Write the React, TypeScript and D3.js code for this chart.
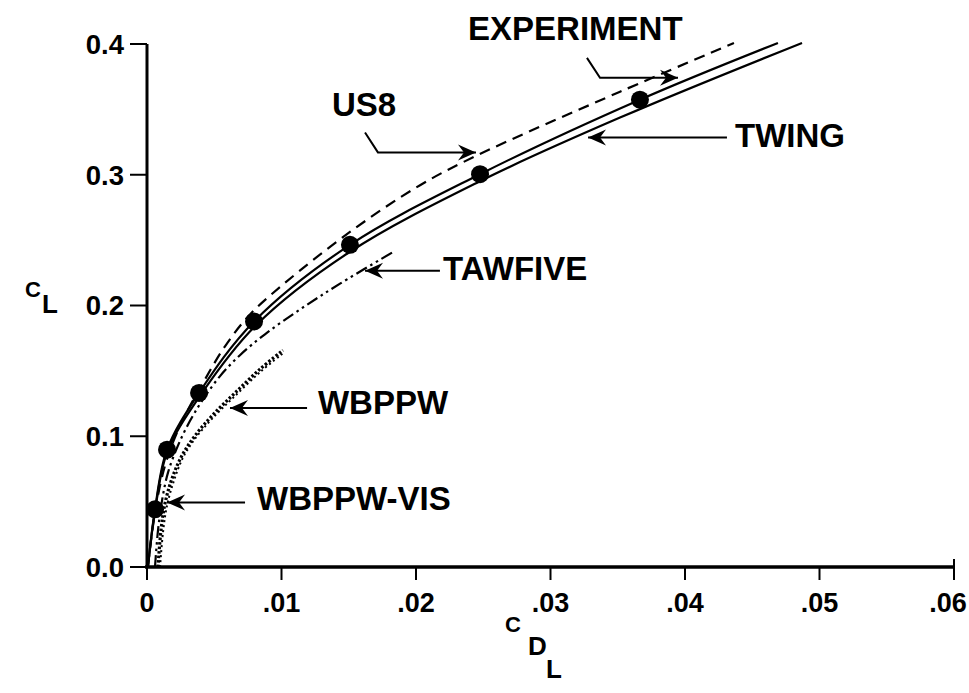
import React from 'react';
import * as d3 from 'd3';

// axis ticks
const xTicks = [0, 0.01, 0.02, 0.03, 0.04, 0.05, 0.06];
const xTickLabels = ['0', '.01', '.02', '.03', '.04', '.05', '.06'];
const yTicks = [0, 0.1, 0.2, 0.3, 0.4];
const yTickLabels = ['0.0', '0.1', '0.2', '0.3', '0.4'];

// experiment (solid line with filled circles)
const experimentCD = [0.00007, 0.000595, 0.00149, 0.00387, 0.00796, 0.01509, 0.02476, 0.03665, 0.04691];
const experimentCL = [0, 0.0441, 0.0897, 0.1331, 0.1878, 0.2464, 0.3004, 0.3574, 0.4008];
const dotsCD = [0.000595, 0.00149, 0.00387, 0.00796, 0.01509, 0.02476, 0.03665];
const dotsCL = [0.0441, 0.0897, 0.1331, 0.1878, 0.2464, 0.3004, 0.3574];

// TWING (solid)
const twingCD = [0.00007, 0.000595, 0.00149, 0.00394, 0.0081, 0.01509, 0.02476, 0.03517, 0.0487];
const twingCL = [0, 0.0426, 0.0875, 0.1308, 0.1848, 0.2411, 0.2951, 0.3437, 0.4008];

// US8 (dashed)
const us8CD = [0.00007, 0.000595, 0.00134, 0.00245, 0.00416, 0.0058, 0.00766, 0.01011, 0.01509, 0.0203, 0.02454, 0.03517, 0.04364];
const us8CL = [0.0008, 0.0418, 0.0776, 0.108, 0.1407, 0.1688, 0.1932, 0.216, 0.2563, 0.292, 0.3148, 0.3635, 0.4008];

// TAWFIVE (dash-dot-dot)
const tawfiveCD = [0.000595, 0.000818, 0.00112, 0.00156, 0.0023, 0.0032, 0.00409, 0.00543, 0.00691, 0.00877, 0.01138, 0.01435, 0.01844];
const tawfiveCL = [0, 0.0281, 0.051, 0.0722, 0.0928, 0.1118, 0.127, 0.146, 0.162, 0.178, 0.197, 0.2167, 0.2418];

// WBPPW (heavy dotted)
const wbppwCD = [0.000818, 0.00104, 0.00134, 0.00186, 0.0026, 0.00357, 0.00483, 0.00654, 0.0084, 0.01011];
const wbppwCL = [0, 0.0281, 0.0487, 0.0677, 0.0852, 0.1004, 0.1156, 0.1331, 0.1513, 0.1658];

// WBPPW-VIS (fine dotted)
const wbppwVisCD = [0.00097, 0.00119, 0.00149, 0.00201, 0.00268, 0.00357, 0.00483, 0.00654, 0.0084, 0.01011];
const wbppwVisCL = [0, 0.0266, 0.0471, 0.0662, 0.0837, 0.0981, 0.1133, 0.1308, 0.149, 0.1635];

// annotation labels, anchored at left/baseline in data units
const noteText = ['EXPERIMENT', 'US8', 'TWING', 'TAWFIVE', 'WBPPW', 'WBPPW-VIS'];
const noteCD = [0.02387, 0.01375, 0.04372, 0.02201, 0.01271, 0.00818];
const noteCL = [0.403, 0.3452, 0.3209, 0.2198, 0.1171, 0.0433];

// leader lines, last point is the arrow tip
const leaders = [
  [[0.03271, 0.3894], [0.03368, 0.3741], [0.03948, 0.3741]],
  [[0.01621, 0.3323], [0.01717, 0.3171], [0.02446, 0.3171]],
  [[0.04312, 0.3285], [0.03279, 0.3285]],
  [[0.02178, 0.2266], [0.01621, 0.2266]],
  [[0.0119, 0.1217], [0.00617, 0.1217]],
  [[0.00729, 0.0494], [0.00149, 0.0494]],
];

const W = 969;
const H = 693;
const font = '"Liberation Sans", Arial, Helvetica, sans-serif';

export default function App() {
  const x = d3.scaleLinear().domain([0, 0.06]).range([147, 954]);
  const y = d3.scaleLinear().domain([0, 0.4]).range([567, 44]);

  const line = d3.line<[number, number]>()
    .x(d => x(d[0]))
    .y(d => y(d[1]))
    .curve(d3.curveCatmullRom.alpha(0.5));

  const pts = (cd: number[], cl: number[]) => cd.map((v, i) => [v, cl[i]] as [number, number]);

  const series = [
    { d: pts(experimentCD, experimentCL), dash: null, w: 2.2 },
    { d: pts(twingCD, twingCL), dash: null, w: 2.2 },
    { d: pts(us8CD, us8CL), dash: '11 7', w: 2.2 },
    { d: pts(tawfiveCD, tawfiveCL), dash: '12 4 2.5 4 2.5 4', w: 2.2 },
    { d: pts(wbppwCD, wbppwCL), dash: '2.5 2', w: 3.2 },
    { d: pts(wbppwVisCD, wbppwVisCL), dash: '2 3', w: 2 },
  ];

  const arrowHead = (p: number[][]) => {
    const a = p[p.length - 2];
    const b = p[p.length - 1];
    const x1 = x(a[0]), y1 = y(a[1]), x2 = x(b[0]), y2 = y(b[1]);
    const ang = Math.atan2(y2 - y1, x2 - x1);
    const len = 18, half = 8, notch = 12;
    const c = Math.cos(ang), s = Math.sin(ang);
    const bx = x2 - len * c, by = y2 - len * s;
    const nx = x2 - notch * c, ny = y2 - notch * s;
    return `M${x2},${y2}L${bx - half * s},${by + half * c}L${nx},${ny}L${bx + half * s},${by - half * c}Z`;
  };

  return (
    <svg width={W} height={H} style={{ position: 'absolute', left: 0, top: 0, background: '#fff' }}
      fontFamily={font} fontWeight="bold">
      {/* axes */}
      <line x1={x(0)} x2={x(0)} y1={y(0.4)} y2={y(0) + 1} stroke="#000" strokeWidth={3} />
      <line x1={x(0) - 2} x2={x(0.06)} y1={y(0)} y2={y(0)} stroke="#000" strokeWidth={3.5} />
      {yTicks.map((t, i) => (
        <g key={'y' + i}>
          <line x1={x(0) - 17} x2={x(0)} y1={y(t)} y2={y(t)} stroke="#000" strokeWidth={2} />
          <text x={x(0) - 23} y={y(t)} dy="0.36em" textAnchor="end" fontSize={27.5}>{yTickLabels[i]}</text>
        </g>
      ))}
      {xTicks.map((t, i) => (
        <g key={'x' + i}>
          <line x1={x(t)} x2={x(t)} y1={y(0) - (i === xTicks.length - 1 ? 8 : 0)} y2={y(0) + 13} stroke="#000" strokeWidth={2} />
          <text x={x(t) - (i === xTicks.length - 1 ? 6 : 0)} y={y(0) + 45} textAnchor="middle" fontSize={27}>{xTickLabels[i]}</text>
        </g>
      ))}
      {/* axis titles */}
      <text x={25} y={297} fontSize={22}>C</text>
      <text x={42} y={313} fontSize={26}>L</text>
      <text x={505} y={632} fontSize={22}>C</text>
      <text x={528} y={655} fontSize={26}>D</text>
      <text x={546} y={678} fontSize={26}>L</text>

      {/* curves */}
      {series.map((s, i) => (
        <path key={'s' + i} d={line(s.d) || ''} fill="none" stroke="#000" strokeWidth={s.w}
          strokeDasharray={s.dash || undefined} />
      ))}
      {dotsCD.map((v, i) => (
        <circle key={'d' + i} cx={x(v)} cy={y(dotsCL[i])} r={9} fill="#000" />
      ))}

      {/* annotations */}
      {leaders.map((p, i) => (
        <g key={'l' + i}>
          <polyline points={p.map(q => `${x(q[0])},${y(q[1])}`).join(' ')} fill="none" stroke="#000" strokeWidth={2} />
          <path d={arrowHead(p)} fill="#000" />
        </g>
      ))}
      {noteText.map((t, i) => (
        <text key={'n' + i} x={x(noteCD[i])} y={y(noteCL[i])} fontSize={33}>{t}</text>
      ))}
    </svg>
  );
}
